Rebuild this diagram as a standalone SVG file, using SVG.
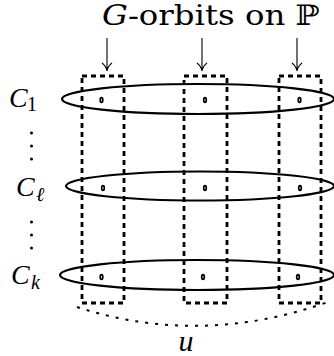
<svg xmlns="http://www.w3.org/2000/svg" width="334" height="356" viewBox="0 0 334 356">
<style>
.orbit{fill:none;stroke:#000;stroke-width:2.8;stroke-dasharray:5 4}
.curve{fill:none;stroke:#000;stroke-width:2.2}
.pt{fill:none;stroke:#000;stroke-width:1.7}
.lbl{font-family:"Liberation Serif",serif;font-style:italic;fill:#000}
.sub{font-family:"Liberation Serif",serif;fill:#000}
.arr{fill:none;stroke:#000;stroke-width:1.1}
.vd{fill:#000}
</style>
<rect width="334" height="356" fill="#fff"/>
<g id="title">
<text x="102" y="25" font-size="28" textLength="218" lengthAdjust="spacingAndGlyphs" fill="#000" font-family="DejaVu Serif, serif"><tspan font-style="italic">G</tspan>-orbits on ℙ</text>
</g>
<g id="orbit1"><rect class="orbit" x="82" y="76" width="42" height="227"/></g>
<g id="orbit2"><rect class="orbit" x="184" y="76" width="43" height="227"/></g>
<g id="orbit3"><rect class="orbit" x="279" y="76" width="42" height="227"/></g>
<g id="C1">
<ellipse class="curve" cx="198" cy="99" rx="136" ry="15"/>
<ellipse class="pt" cx="101.5" cy="100" rx="1.3" ry="2.4"/>
<ellipse class="pt" cx="205" cy="100" rx="1.3" ry="2.4"/>
<ellipse class="pt" cx="299.5" cy="100" rx="1.3" ry="2.4"/>
<text x="9" y="107" font-size="28" class="lbl" font-family="Liberation Serif, serif">C</text><text x="27" y="111" font-size="20" class="sub" font-family="Liberation Serif, serif">1</text>
</g>
<g id="Cl">
<ellipse class="curve" cx="200" cy="186" rx="134" ry="14.5"/>
<ellipse class="pt" cx="103" cy="188" rx="1.3" ry="2.4"/>
<ellipse class="pt" cx="205" cy="188" rx="1.3" ry="2.4"/>
<ellipse class="pt" cx="300" cy="188" rx="1.3" ry="2.4"/>
<text x="16" y="196" font-size="28" class="lbl" font-family="Liberation Serif, serif">C</text><text x="36" y="201" font-size="20" class="lbl" font-family="Liberation Serif, serif">ℓ</text>
</g>
<g id="Ck">
<ellipse class="curve" cx="197" cy="275" rx="137" ry="15"/>
<ellipse class="pt" cx="101.5" cy="277" rx="1.3" ry="2.4"/>
<ellipse class="pt" cx="203" cy="277" rx="1.3" ry="2.4"/>
<ellipse class="pt" cx="298" cy="277" rx="1.3" ry="2.4"/>
<text x="11" y="284" font-size="28" class="lbl" font-family="Liberation Serif, serif">C</text><text x="31" y="289" font-size="20" class="lbl" font-family="Liberation Serif, serif">k</text>
</g>
<g id="vdots">
<circle class="vd" cx="31.5" cy="133" r="1.5"/><circle class="vd" cx="31.5" cy="146" r="1.5"/><circle class="vd" cx="31.5" cy="159" r="1.5"/>
<circle class="vd" cx="31.5" cy="222" r="1.5"/><circle class="vd" cx="31.5" cy="235" r="1.5"/><circle class="vd" cx="31.5" cy="248" r="1.5"/>
</g>
<g id="connectors">
<path class="arr" d="M107 38V71M102 63Q106 66 107 71Q108 66 112 63"/>
<path class="arr" d="M202 38V71M197 63Q201 66 202 71Q203 66 207 63"/>
<path class="arr" d="M297 38V71M292 63Q296 66 297 71Q298 66 302 63"/>
<path d="M77 307Q200 347 328 302" fill="none" stroke="#000" stroke-width="2" stroke-dasharray="3 7"/>
</g>
<g id="u"><text x="186" y="351" font-size="30" text-anchor="middle" class="lbl" font-family="Liberation Serif, serif">u</text></g>
</svg>
